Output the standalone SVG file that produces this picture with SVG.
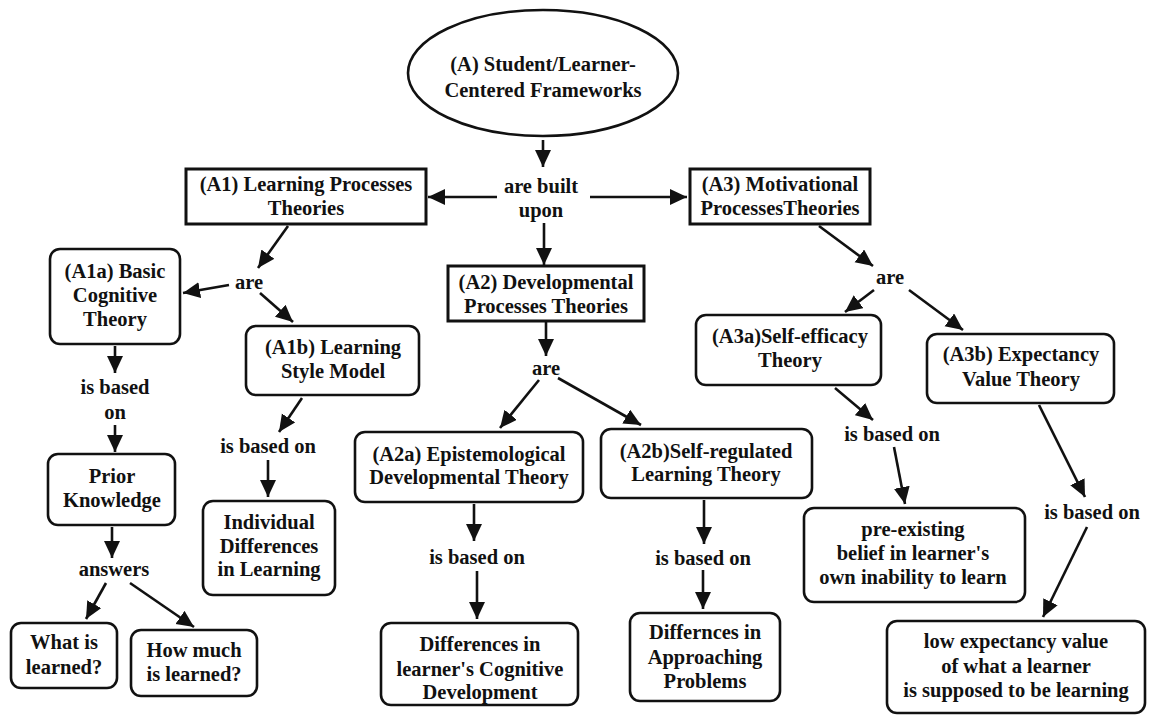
<svg xmlns="http://www.w3.org/2000/svg" width="1150" height="717" viewBox="0 0 1150 717">
  <style>
    text { font-family: "Liberation Serif", "Times New Roman", serif; font-weight: bold; font-size: 20.5px; fill: #111; text-anchor: middle; }
    .sq { fill: #fff; stroke: #111; stroke-width: 3; }
    .rd { fill: #fff; stroke: #111; stroke-width: 2.6; }
    .ov { fill: #fff; stroke: #111; stroke-width: 2.6; }
    .ln { fill: none; stroke: #111; stroke-width: 2.6; marker-end: url(#ah); }
  </style>
  <defs>
    <marker id="ah" markerUnits="userSpaceOnUse" markerWidth="19" markerHeight="17" refX="17" refY="8" orient="auto">
      <path d="M0,0 L17,8 L0,16 z" fill="#111"/>
    </marker>
  </defs>
  <rect width="1150" height="717" fill="#fff"/>

  <g id="connectors">
    <line class="ln" x1="543" y1="140" x2="543" y2="167"/>
    <line class="ln" x1="497" y1="197" x2="428" y2="197"/>
    <line class="ln" x1="590" y1="197" x2="687" y2="197"/>
    <line class="ln" x1="544" y1="223" x2="544" y2="265"/>
    <line class="ln" x1="288" y1="226" x2="258" y2="268"/>
    <line class="ln" x1="229" y1="285" x2="183" y2="293"/>
    <line class="ln" x1="260" y1="293" x2="293" y2="322"/>
    <line class="ln" x1="115" y1="346" x2="115" y2="373"/>
    <line class="ln" x1="115" y1="425" x2="115" y2="452"/>
    <line class="ln" x1="112" y1="527" x2="112" y2="558"/>
    <line class="ln" x1="106" y1="583" x2="86" y2="619"/>
    <line class="ln" x1="130" y1="583" x2="194" y2="627"/>
    <line class="ln" x1="302" y1="398" x2="279" y2="432"/>
    <line class="ln" x1="268" y1="460" x2="268" y2="497"/>
    <line class="ln" x1="546" y1="322" x2="546" y2="356"/>
    <line class="ln" x1="539" y1="380" x2="500" y2="428"/>
    <line class="ln" x1="558" y1="378" x2="641" y2="425"/>
    <line class="ln" x1="474" y1="504" x2="474" y2="541"/>
    <line class="ln" x1="477" y1="571" x2="477" y2="619"/>
    <line class="ln" x1="704" y1="500" x2="704" y2="544"/>
    <line class="ln" x1="703" y1="570" x2="703" y2="609"/>
    <line class="ln" x1="819" y1="226" x2="873" y2="266"/>
    <line class="ln" x1="874" y1="290" x2="845" y2="312"/>
    <line class="ln" x1="909" y1="290" x2="963" y2="330"/>
    <line class="ln" x1="835" y1="388" x2="873" y2="420"/>
    <line class="ln" x1="894" y1="447" x2="905" y2="504"/>
    <line class="ln" x1="1039" y1="405" x2="1085" y2="497"/>
    <line class="ln" x1="1087" y1="527" x2="1043" y2="617"/>
  </g>

  <g id="A">
    <ellipse class="ov" cx="543" cy="73" rx="135" ry="63"/>
    <text x="543" y="71">(A) Student/Learner-</text>
    <text x="543" y="97">Centered Frameworks</text>
  </g>

  <g id="lbl-built">
    <text x="541" y="193">are built</text>
    <text x="541" y="217">upon</text>
  </g>

  <g id="A1">
    <rect class="sq" x="186" y="169" width="240" height="55"/>
    <text x="306" y="191">(A1) Learning Processes</text>
    <text x="306" y="215">Theories</text>
  </g>

  <g id="A2">
    <rect class="sq" x="448" y="266" width="196" height="55"/>
    <text x="546" y="289">(A2) Developmental</text>
    <text x="546" y="313">Processes Theories</text>
  </g>

  <g id="A3">
    <rect class="sq" x="690" y="169" width="180" height="55"/>
    <text x="780" y="191">(A3) Motivational</text>
    <text x="780" y="215">ProcessesTheories</text>
  </g>

  <g id="lbl-are1"><text x="249" y="289">are</text></g>
  <g id="lbl-are2"><text x="546" y="375">are</text></g>
  <g id="lbl-are3"><text x="890" y="284">are</text></g>

  <g id="A1a">
    <rect class="rd" x="50" y="249" width="130" height="95" rx="10"/>
    <text x="115" y="278">(A1a) Basic</text>
    <text x="115" y="302">Cognitive</text>
    <text x="115" y="326">Theory</text>
  </g>

  <g id="lbl-a1a"><text x="115" y="394">is based</text><text x="115" y="419">on</text></g>

  <g id="prior">
    <rect class="rd" x="48" y="454" width="127" height="71" rx="10"/>
    <text x="112" y="483">Prior</text>
    <text x="112" y="507">Knowledge</text>
  </g>

  <g id="lbl-answers"><text x="114" y="576">answers</text></g>

  <g id="what">
    <rect class="rd" x="11" y="623" width="106" height="65" rx="10"/>
    <text x="64" y="649">What is</text>
    <text x="64" y="674">learned?</text>
  </g>

  <g id="howmuch">
    <rect class="rd" x="131" y="630" width="126" height="66" rx="10"/>
    <text x="194" y="657">How much</text>
    <text x="194" y="681">is learned?</text>
  </g>

  <g id="A1b">
    <rect class="rd" x="246" y="326" width="173" height="69" rx="10"/>
    <text x="333" y="354">(A1b) Learning</text>
    <text x="333" y="378">Style Model</text>
  </g>

  <g id="lbl-a1b"><text x="268" y="453">is based on</text></g>

  <g id="indiv">
    <rect class="rd" x="203" y="501" width="132" height="94" rx="10"/>
    <text x="269" y="529">Individual</text>
    <text x="269" y="553">Differences</text>
    <text x="269" y="576">in Learning</text>
  </g>

  <g id="A2a">
    <rect class="rd" x="355" y="432" width="228" height="70" rx="10"/>
    <text x="469" y="461">(A2a) Epistemological</text>
    <text x="469" y="484">Developmental Theory</text>
  </g>

  <g id="lbl-a2a"><text x="477" y="564">is based on</text></g>

  <g id="cogdev">
    <rect class="rd" x="381" y="623" width="197" height="82" rx="10"/>
    <text x="480" y="651">Differences in</text>
    <text x="480" y="676">learner's Cognitive</text>
    <text x="480" y="699">Development</text>
  </g>

  <g id="A2b">
    <rect class="rd" x="601" y="429" width="211" height="69" rx="10"/>
    <text x="706" y="458">(A2b)Self-regulated</text>
    <text x="706" y="481">Learning Theory</text>
  </g>

  <g id="lbl-a2b"><text x="703" y="565">is based on</text></g>

  <g id="approach">
    <rect class="rd" x="630" y="613" width="150" height="88" rx="10"/>
    <text x="705" y="639">Differnces in</text>
    <text x="705" y="664">Approaching</text>
    <text x="705" y="688">Problems</text>
  </g>

  <g id="A3a">
    <rect class="rd" x="696" y="315" width="185" height="70" rx="10"/>
    <text x="790" y="343">(A3a)Self-efficacy</text>
    <text x="790" y="367">Theory</text>
  </g>

  <g id="lbl-a3a"><text x="892" y="441">is based on</text></g>

  <g id="preexisting">
    <rect class="rd" x="804" y="508" width="221" height="94" rx="10"/>
    <text x="913" y="536">pre-existing</text>
    <text x="913" y="560">belief in learner's</text>
    <text x="913" y="584">own inability to learn</text>
  </g>

  <g id="A3b">
    <rect class="rd" x="927" y="334" width="187" height="69" rx="10"/>
    <text x="1021" y="361">(A3b) Expectancy</text>
    <text x="1021" y="386">Value Theory</text>
  </g>

  <g id="lbl-a3b"><text x="1092" y="519">is based on</text></g>

  <g id="lowexp">
    <rect class="rd" x="887" y="621" width="258" height="92" rx="10"/>
    <text x="1016" y="648">low expectancy value</text>
    <text x="1016" y="673">of what a learner</text>
    <text x="1016" y="697">is supposed to be learning</text>
  </g>
</svg>
